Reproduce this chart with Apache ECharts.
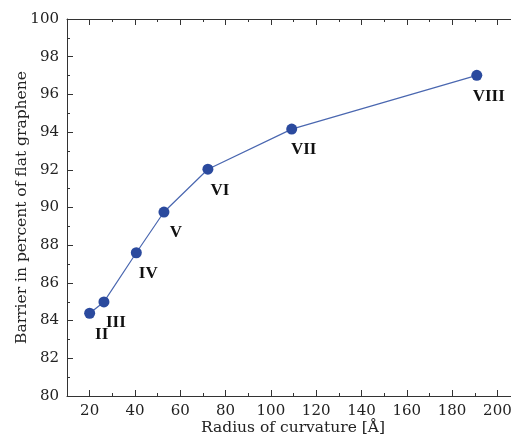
<!DOCTYPE html>
<html><head><meta charset="utf-8">
<script src="https://cdn.jsdelivr.net/npm/echarts@6/dist/echarts.min.js"></script>
<style>html,body{margin:0;padding:0;background:#fff}#c{width:511px;height:436px}</style>
</head><body><div id="c"></div>
<script>
const structures = ['II','III','IV','V','VI','VII','VIII'];
const radius = [20.0, 26.3, 40.6, 52.8, 72.2, 109.2, 190.9];
const barrier = [84.39, 84.99, 87.60, 89.76, 92.03, 94.16, 97.01];
const xMajor = [20,40,60,80,100,120,140,160,180,200];
const xMinor = [10,30,50,70,90,110,130,150,170,190];
const xTitle = 'Radius of curvature [Å]';
const yTitle = 'Barrier in percent of flat graphene';

const font = 'DejaVu Serif';
const labFont = 'Liberation Serif';
const axisCol = '#333';
const chart = echarts.init(document.getElementById('c'), null, {renderer:'canvas'});
const pts = radius.map((r,i)=>[r, barrier[i], structures[i]]);
const XMIN = 10, XMAX = 206;
function xa(pos, showLine, ticks, len, labels){
  const a = {type:'value', min:XMIN, max:XMAX, position:pos, gridIndex:0,
    axisLine:{show:showLine, lineStyle:{color:axisCol, width:1}},
    axisTick:{show:true, inside:true, length:len, customValues:ticks, lineStyle:{color:axisCol}},
    axisLabel:{show:false},
    splitLine:{show:false}};
  if(labels){
    a.axisLabel = {show:true, customValues:ticks, fontFamily:font, fontSize:15, color:'#222', margin:8};
    a.name = xTitle; a.nameLocation='middle'; a.nameGap=24; a.nameMoveOverlap=false;
    a.nameTextStyle = {fontFamily:font, fontSize:15.5, color:'#222', padding:[0,0,0,8]};
  }
  return a;
}
chart.setOption({
  animation:false,
  backgroundColor:'#fff',
  grid:{left:67, right:0, top:19, bottom:40, containLabel:false, outerBoundsMode:'none'},
  xAxis:[
    xa('bottom', true, xMajor, 6, true),
    xa('bottom', false, xMinor, 3, false),
    xa('top', true, xMajor, 6, false),
    xa('top', false, xMinor, 3, false)
  ],
  yAxis:[{
    type:'value', min:80, max:100, interval:2, position:'left',
    name:yTitle, nameLocation:'middle', nameGap:37, nameMoveOverlap:false,
    nameTextStyle:{fontFamily:font, fontSize:15.5, color:'#222'},
    axisLine:{show:true, lineStyle:{color:axisCol, width:1}},
    axisTick:{show:true, inside:true, length:6, lineStyle:{color:axisCol}},
    minorTick:{show:true, splitNumber:2, length:3, lineStyle:{color:axisCol}},
    splitLine:{show:false},
    axisLabel:{fontFamily:font, fontSize:15, color:'#222', margin:8}
  }],
  series:[{
    type:'line', data:pts, xAxisIndex:0, yAxisIndex:0,
    symbol:'circle', symbolSize:11,
    lineStyle:{color:'#4a67b0', width:1.2},
    itemStyle:{color:'#2b4a9e'},
    label:{show:true, position:'inside', offset:[12,21],
      formatter:p=>p.data[2],
      fontFamily:labFont, fontWeight:'bold', fontSize:17, color:'#111'}
  }]
});
</script></body></html>
